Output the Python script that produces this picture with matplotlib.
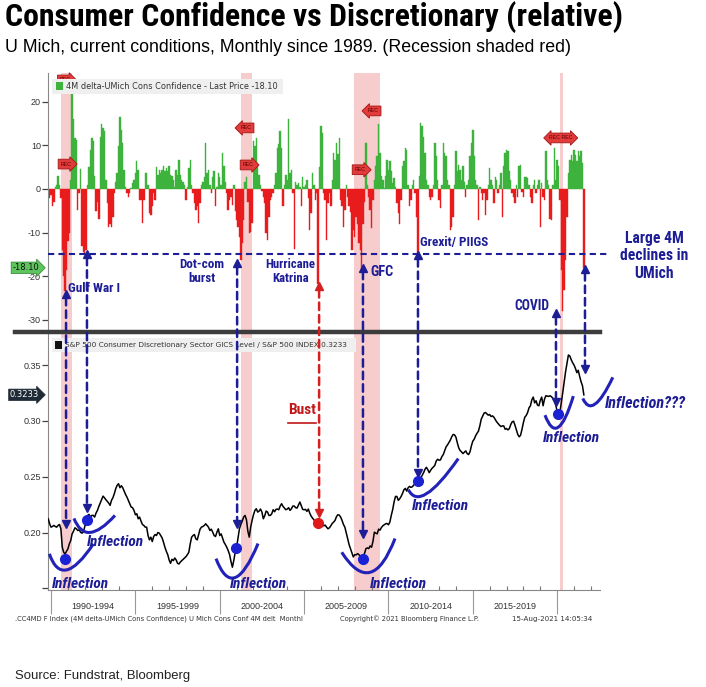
import matplotlib
matplotlib.use('Agg')
import matplotlib.pyplot as plt
import matplotlib.transforms as mtransforms
import numpy as np
import pandas as pd
from matplotlib import font_manager
from matplotlib.patches import ConnectionPatch, PathPatch, Rectangle
from matplotlib.path import Path

plt.rcParams['font.family'] = ['Liberation Sans', 'DejaVu Sans']
installed = {f.name for f in font_manager.fontManager.ttflist}
narrow = next((n for n in ('Liberation Sans Narrow', 'Arial Narrow', 'Roboto Condensed')
               if n in installed), 'Liberation Sans')

# 4M delta UMich current conditions (monthly, Nov 1989 - Aug 2021)
delta_89_94 = [
    -1, -2,
    -1.5, -4, -3, 0.5, 1, 3, 0.8, -2, -14, -20, -23.5, -18.7,
    -12, -10, 2, 21.7, 16, 11.7, 11.3, -4.8, -1, 4.6, -13, -14.5,
    -15, -14, 1, 5, 9, 11.7, 11, 3, -5, -3, -7, 12,
    14.8, 14, 13.2, 2, -3.3, -8.7, -8, -8.7, -6.4, -1, 1.5, 3.6,
    9.8, 16.5, 13.6, 10.5, 4.4, 0.5, -1, -1.8, -1, 0.3, 1.3, 2,
]
delta_95_99 = [
    3.6, 6.3, 4.4, -2.5, -2.5, -7.9, -2.5, 3.6, 3.6, 1, -5.6, -6,
    -4, -1, -2.5, 5, 3.3, 4.4, 3.6, 4.4, 5.2, 4, 4.8, 4,
    5.2, 3.3, 3, 2, 0.5, 4.4, 3.3, 6.7, 3.3, 2, 1.5, 1,
    -2.5, 0.5, 4.8, 6.7, 1, -1, -3.3, -4.8, -4, -7.9, -3.3, 1,
    1.5, 2.8, 10.5, 3.6, 4.4, 1, -1, 2.8, 4, -4, 0.5, 3.6,
]
delta_00_04 = [
    2.8, 1, 8.2, 5.2, 1.5, -1, -4.8, -2.5, -1.8, -3.7, 1, -5,
    -7.2, -8.7, -11, -16.3, -12.5, -7.2, 1.7, 2.8, -3, -10.2, -9.8, -7.9,
    10.9, 9.8, 11.7, 5.2, 3.3, 1, -0.5, -1.8, -3.3, -10.2, -11.8, -6.4,
    -2.5, -1.8, -1, 1, 3.6, 9.4, 10.2, 13.2, 9.4, -4, 1, 3.3,
    2, 16, 3.6, 4.4, -1, -13.7, 1.7, 1, 1.3, 0.5, -4, 2.8,
]
delta_05_09 = [
    0.5, 1, 2, -2, -9.5, -5.6, 3.6, 1, -2.5, -1, -21.8, 5,
    14.4, 12.8, -1, -2.5, -11.8, -3.3, -1, -4, 2, 8.2, 6.7, 10.5,
    8, 11.7, -2.5, -4, -8.7, -4.8, 1, -1.8, -4, -5.2, -14, -9.5,
    -11, -6.4, -8, -12.5, -14, -18.7, -8, -3, 10.5, 1, -1.8, -4.8,
    -9, -2.5, 2, 5.2, 7.5, 14.8, 8.2, 3, 2, 0.2, 3, 6.7,
]
delta_10_14 = [
    4.4, 6.3, 4, 1.3, 2.5, 0.5, -3.3, -5.6, -8, -2.5, 5.2, 6.3,
    9.4, 9, 1, -4, -2.5, 1, 2, -1, -6.4, -14.8, 3, 15.2,
    14.4, 12, 8.2, 2, 1, -1.8, -2.5, -1.8, 1, 10.5, 7.5, 2,
    -2.5, -4.4, 1, 10.5, 8.2, 7.5, 2, 1, -9.5, -8.7, -6.4, 1,
    8.6, 4, 5.5, 4.4, 2, 5.2, 1.7, -1.8, 1, 2, 7.5, 10.5,
]
delta_15_19 = [
    13.6, 7.5, 2, 1, -7.2, 0.5, -1, -2.5, -1, -6, -2.5, 1,
    4.8, 2, 1, -3.3, 2.8, 2, -1, 1, 3.6, -6.4, 5.2, 8.2,
    9, 8.6, 4, 2, -1, -1.8, -3.3, 1, -1.8, 5.2, 5.5, -0.6,
    -1.8, 2.8, 2.8, 2.4, 1, -1.8, -3.3, 1, 2, -1, 1, 2,
    -8.7, 1.3, -1.8, -2.5, 8.6, 2, 1, -6.8, -7.2, 1, 9.4, 2,
]
delta_20_21 = [
    6.7, 5.2, -2.5, -18.7, -27.9, -23.3, -16.4, -6.4, 3.6, 6.7, 7.7, 6.3,
    9, 7.7, 6.3, 8.6, 7.5, 8.6, 6, -18.1,
]

# S&P 500 Consumer Discretionary / S&P 500 (monthly)
ratio_89_94 = [
    0.2123, 0.2078,
    0.2048, 0.2054, 0.2063, 0.2054, 0.2048, 0.2063, 0.2072, 0.2033, 0.1868, 0.1823, 0.1808, 0.1832,
    0.1853, 0.1898, 0.1928, 0.1988, 0.2012, 0.2042, 0.2033, 0.2018, 0.2024, 0.2003, 0.1994, 0.2003,
    0.2054, 0.2108, 0.2153, 0.2162, 0.2138, 0.2153, 0.2153, 0.2138, 0.2174, 0.2198, 0.2234, 0.2264,
    0.2294, 0.2326, 0.2311, 0.2294, 0.2279, 0.2264, 0.2243, 0.2288, 0.2311, 0.2347, 0.2392, 0.2422,
    0.2437, 0.2401, 0.2419, 0.2401, 0.2371, 0.2341, 0.2317, 0.2288, 0.2258, 0.2228, 0.2222, 0.2198,
]
ratio_95_99 = [
    0.2159, 0.2168, 0.2123, 0.2138, 0.2102, 0.2072, 0.2063, 0.2048, 0.2048, 0.1973, 0.1934, 0.1958,
    0.1919, 0.1964, 0.1982, 0.1973, 0.2000, 0.1994, 0.1973, 0.1952, 0.1913, 0.1868, 0.1832, 0.1802,
    0.1754, 0.1724, 0.1760, 0.1748, 0.1772, 0.1754, 0.1724, 0.1718, 0.1736, 0.1748, 0.1760, 0.1772,
    0.1784, 0.1802, 0.1823, 0.1898, 0.1958, 0.1973, 0.1982, 0.1943, 0.1934, 0.1982, 0.2030, 0.2048,
    0.2054, 0.2063, 0.2078, 0.2063, 0.2048, 0.2018, 0.2030, 0.2003, 0.1973, 0.1964, 0.2003, 0.2033,
]
ratio_00_04 = [
    0.1973, 0.1988, 0.1952, 0.1913, 0.1892, 0.1868, 0.1838, 0.1802, 0.1740, 0.1689, 0.1750, 0.1823,
    0.1868, 0.1952, 0.2033, 0.2072, 0.2102, 0.2138, 0.2153, 0.2114, 0.2012, 0.1958, 0.2048, 0.2108,
    0.2159, 0.2198, 0.2213, 0.2183, 0.2192, 0.2210, 0.2183, 0.2123, 0.2150, 0.2192, 0.2183, 0.2153,
    0.2153, 0.2168, 0.2204, 0.2186, 0.2207, 0.2210, 0.2204, 0.2237, 0.2258, 0.2234, 0.2219, 0.2204,
    0.2210, 0.2222, 0.2198, 0.2213, 0.2237, 0.2237, 0.2222, 0.2219, 0.2246, 0.2273, 0.2240, 0.2207,
]
ratio_05_09 = [
    0.2204, 0.2207, 0.2189, 0.2210, 0.2174, 0.2147, 0.2129, 0.2114, 0.2090, 0.2078, 0.2069, 0.2063,
    0.2072, 0.2066, 0.2060, 0.2066, 0.2048, 0.2033, 0.2042, 0.2060, 0.2081, 0.2093, 0.2108, 0.2141,
    0.2159, 0.2156, 0.2138, 0.2108, 0.2072, 0.2048, 0.1997, 0.1943, 0.1892, 0.1856, 0.1817, 0.1781,
    0.1802, 0.1799, 0.1811, 0.1802, 0.1784, 0.1796, 0.1778, 0.1814, 0.1856, 0.1862, 0.1856, 0.1880,
    0.1868, 0.1922, 0.2003, 0.1994, 0.1988, 0.2030, 0.2021, 0.2045, 0.2060, 0.2069, 0.2078, 0.2081,
]
ratio_10_14 = [
    0.2069, 0.2093, 0.2153, 0.2204, 0.2273, 0.2323, 0.2323, 0.2288, 0.2302, 0.2323, 0.2350, 0.2383,
    0.2395, 0.2371, 0.2401, 0.2413, 0.2404, 0.2410, 0.2425, 0.2440, 0.2464, 0.2467, 0.2479, 0.2488,
    0.2512, 0.2536, 0.2566, 0.2584, 0.2563, 0.2536, 0.2557, 0.2575, 0.2587, 0.2602, 0.2641, 0.2656,
    0.2647, 0.2650, 0.2680, 0.2698, 0.2734, 0.2767, 0.2785, 0.2806, 0.2827, 0.2857, 0.2878, 0.2875,
    0.2854, 0.2803, 0.2758, 0.2734, 0.2722, 0.2707, 0.2719, 0.2731, 0.2707, 0.2698, 0.2722, 0.2776,
]
ratio_15_19 = [
    0.2818, 0.2836, 0.2866, 0.2889, 0.2907, 0.2955, 0.3015, 0.3042, 0.3069, 0.3075, 0.3063, 0.3051,
    0.3057, 0.3039, 0.3045, 0.3033, 0.3012, 0.2991, 0.2976, 0.2961, 0.2949, 0.2955, 0.2955, 0.2925,
    0.2931, 0.2919, 0.2931, 0.2967, 0.2991, 0.2997, 0.2961, 0.2919, 0.2878, 0.2857, 0.2872, 0.2925,
    0.2985, 0.3033, 0.3048, 0.3075, 0.3117, 0.3135, 0.3189, 0.3213, 0.3161, 0.3180, 0.3141, 0.3135,
    0.3183, 0.3213, 0.3135, 0.3195, 0.3225, 0.3222, 0.3219, 0.3225, 0.3216, 0.3201, 0.3189, 0.3141,
]
ratio_20_21 = [
    0.3087, 0.3063, 0.3081, 0.3165, 0.3255, 0.3345, 0.3441, 0.3515, 0.3590, 0.3581, 0.3548, 0.3521,
    0.3500, 0.3470, 0.3432, 0.3453, 0.3399, 0.3351, 0.3315, 0.3233,
]

recessions = [(1990.58, 1991.25), (2001.25, 2001.92), (2007.95, 2009.5), (2020.15, 2020.33)]
period_labels = ['1990-1994', '1995-1999', '2000-2004', '2005-2009', '2010-2014', '2015-2019']
period_starts = [1990, 1995, 2000, 2005, 2010, 2015, 2020]

delta = np.array(delta_89_94 + delta_95_99 + delta_00_04 + delta_05_09
                 + delta_10_14 + delta_15_19 + delta_20_21)
ratio = np.array(ratio_89_94 + ratio_95_99 + ratio_00_04 + ratio_05_09
                 + ratio_10_14 + ratio_15_19 + ratio_20_21)
months = pd.date_range('1989-11-01', periods=len(delta), freq='MS')
x = months.year + (months.month - 1) / 12.0

navy = '#1d1d96'
blue = '#1a22d4'
green = '#3db23d'
red = '#e81c1c'
W, H = 706, 687

fig = plt.figure(figsize=(W / 100, H / 100), dpi=100)
ax1 = fig.add_axes([48 / W, 1 - 331 / H, 552 / W, 258 / H])
ax2 = fig.add_axes([48 / W, 1 - 590 / H, 552 / W, 257 / H])
xlim = (1989.82, 2022.54)
fit = []  # (text, target width in px)

# top panel: 4M delta bars
bar_cols = np.where(delta >= 0, green, red)
ax1.bar(x, delta, width=1 / 12, color=bar_cols, edgecolor=bar_cols, linewidth=0.3, zorder=2)
ax1.set_xlim(xlim)
ax1.set_ylim(-32.6, 26.6)
ax1.set_xticks([])
ax1.set_yticks([-30, -20, -10, 0, 10, 20])
ax1.set_yticklabels(['-30', '-20', '-10', '0', '10', '20'])

# bottom panel: relative line
ax2.plot(x, ratio, color='black', lw=1.1, zorder=3)
ax2.set_xlim(xlim)
ax2.set_ylim(0.1485, 0.3787)
ax2.set_yticks([0.15, 0.20, 0.25, 0.30, 0.35])
ax2.set_yticklabels(['', '0.20', '0.25', '0.30', '0.35'])
ax2.set_xticks(period_starts)
ax2.set_xticklabels([])
ax2.set_xticks(np.arange(1990, 2023), minor=True)
ax2.tick_params(axis='x', which='major', length=17, width=0.8, color='#999999', direction='out')
ax2.tick_params(axis='x', which='minor', length=3, width=0.8, color='#777777', direction='in')
for i, lab in enumerate(period_labels):
    ax2.text(period_starts[i] + 2.5, -0.066, lab, transform=ax2.get_xaxis_transform(),
             ha='center', va='center', fontsize=6.5, color='#333333')

for ax in (ax1, ax2):
    for a, b in recessions:
        ax.axvspan(a, b, color='#f6c4c4', alpha=0.85, lw=0, zorder=1)
    for s in ['top', 'right']:
        ax.spines[s].set_visible(False)
    ax.spines['left'].set_color('#888888')
    ax.tick_params(axis='y', length=4, width=0.9, color='#444444', labelsize=6.5,
                   labelcolor='#333333', pad=1)
ax1.spines['bottom'].set_visible(False)
ax2.spines['bottom'].set_color('#888888')

# legend boxes
ax1.add_patch(Rectangle((0.0072, 0.9186), 0.4185, 0.058, transform=ax1.transAxes,
                        fc='#efefef', ec='none', zorder=6))
ax1.add_patch(Rectangle((0.0145, 0.934), 0.0127, 0.031, transform=ax1.transAxes,
                        fc=green, ec='none', zorder=7))
t = ax1.text(0.0326, 0.9477, '4M delta-UMich Cons Confidence - Last Price -18.10',
             transform=ax1.transAxes, fontsize=6, color='#333333', va='center',
             family='DejaVu Sans', zorder=7)
fit.append((t, 213))
ax2.add_patch(Rectangle((0.0072, 0.926), 0.551, 0.055, transform=ax2.transAxes,
                        fc='#efefef', ec='none', zorder=6))
ax2.add_patch(Rectangle((0.0127, 0.938), 0.0127, 0.031, transform=ax2.transAxes,
                        fc='#111111', ec='none', zorder=7))
t = ax2.text(0.0308, 0.953, 'S&P 500 Consumer Discretionary Sector GICS Level / S&P 500 INDEX 0.3233',
             transform=ax2.transAxes, fontsize=6, color='#333333', va='center',
             family='DejaVu Sans', zorder=7)
fit.append((t, 287))

# last value tags
ax1.text(-0.016, delta[-1], '-18.10', transform=mtransforms.blended_transform_factory(ax1.transAxes, ax1.transData),
         ha='right', va='center', fontsize=6, family='DejaVu Sans', color='#111111',
         bbox=dict(boxstyle='rarrow,pad=0.15', fc='#5ec45e', ec='#2f7f2f', lw=0.5), zorder=6, clip_on=False)
ax2.text(-0.016, ratio[-1], '0.3233', transform=mtransforms.blended_transform_factory(ax2.transAxes, ax2.transData),
         ha='right', va='center', fontsize=6, family='DejaVu Sans', color='white',
         bbox=dict(boxstyle='rarrow,pad=0.15', fc='#1e2a36', ec='#1e2a36', lw=0.5), zorder=6, clip_on=False)

# recession markers
rec_marks = [(1990.85, 25.0, 'rarrow'), (1990.89, 5.7, 'rarrow'), (2001.56, 14.0, 'larrow'),
             (2001.68, 5.5, 'rarrow'), (2009.09, 17.9, 'larrow'), (2008.32, 4.4, 'rarrow'),
             (2020.23, 11.7, 'darrow')]
for mx, my, style in rec_marks:
    txt = 'REC REC' if style == 'darrow' else 'REC'
    ax1.text(mx, my, txt, fontsize=3.8, color='#5a0000', ha='center', va='center',
             bbox=dict(boxstyle=style + ',pad=0.45', fc='#e23b3b', ec='#a31515', lw=0.6), zorder=5)

# horizontal threshold line
ax1.plot([xlim[0], 2023.15], [-15, -15], ls=(0, (3, 2)), color=navy, lw=1.5, clip_on=False, zorder=6)

# vertical double arrows from large declines to the relative line
arrows = [(1990.89, -25.0, 0.2081, navy), (1992.13, -15.8, 0.2225, navy),
          (2001.03, -17.9, 0.2081, navy), (2005.89, -23.2, 0.2180, '#d42020'),
          (2008.49, -19.0, 0.2000, navy), (2011.75, -16.1, 0.2539, navy),
          (2019.93, -29.4, 0.3177, navy), (2021.65, -19.3, 0.3473, navy)]
for ax_x, ya, yb, col in arrows:
    con = ConnectionPatch(xyA=(ax_x, ya), xyB=(ax_x, yb), coordsA='data', coordsB='data',
                          axesA=ax1, axesB=ax2, color=col, lw=1.8, ls=(0, (3, 2)), zorder=7)
    fig.add_artist(con)
    ax1.plot(ax_x, ya + 0.9, marker='^', ms=6, color=col, zorder=8, clip_on=False)
    ax2.plot(ax_x, yb - 0.0009, marker='v', ms=6, color=col, zorder=8, clip_on=False)

# inflection dots
dots = [(1990.83, 0.1766), (1992.13, 0.2108), (2000.97, 0.1865), (2008.49, 0.1766),
        (2011.75, 0.2458), (2020.05, 0.3060)]
for dx, dy in dots:
    ax2.plot(dx, dy, 'o', ms=7, color=blue, zorder=8)
ax2.plot(2005.83, 0.2081, 'o', ms=7, color='#e01818', zorder=8)


def smile(ax, p0, pm, p2):
    p0, pm, p2 = np.array(p0), np.array(pm), np.array(p2)
    c = 2 * pm - (p0 + p2) / 2
    path = Path([p0, c, p2], [Path.MOVETO, Path.CURVE3, Path.CURVE3])
    ax.add_patch(PathPatch(path, fill=False, ec='#2222b8', lw=2.2, clip_on=False, zorder=7))


smile(ax2, (1989.90, 0.1809), (1990.93, 0.1665), (1992.51, 0.1898))
smile(ax2, (1991.36, 0.2126), (1992.31, 0.2000), (1993.79, 0.2153))
smile(ax2, (1999.78, 0.1766), (2000.91, 0.1596), (2002.27, 0.1901))
smile(ax2, (2007.23, 0.1823), (2008.91, 0.1643), (2010.39, 0.1946))
smile(ax2, (2011.18, 0.2384), (2012.27, 0.2348), (2014.14, 0.2662))
smile(ax2, (2019.28, 0.3051), (2020.07, 0.2943), (2020.96, 0.3222))
smile(ax2, (2021.52, 0.3201), (2022.25, 0.3150), (2023.30, 0.3390))

# event labels (top panel)
ev = dict(color=navy, fontweight='bold', family=narrow, fontsize=10, zorder=9)
fit.append((ax1.text(1991.01, -22.9, 'Gulf War I', ha='left', va='center', **ev), 52))
fit.append((ax1.text(1998.95, -19.0, 'Dot-com\nburst', ha='center', va='center',
                     linespacing=1.1, **ev), 45))
fit.append((ax1.text(2004.17, -19.0, 'Hurricane\nKatrina', ha='center', va='center',
                     linespacing=1.1, **ev), 50))
fit.append((ax1.text(2008.91, -19.0, 'GFC', ha='left', va='center', **ev), 23))
fit.append((ax1.text(2011.87, -12.2, 'Grexit/ PIIGS', ha='left', va='center', **ev), 68))
fit.append((ax1.text(2017.45, -26.8, 'COVID', ha='left', va='center', **ev), 35))
fit.append((fig.text(654 / W, 1 - 256 / H, 'Large 4M\ndeclines in\nUMich', fontsize=11.5,
                     ha='center', va='center', linespacing=1.2, color=navy, fontweight='bold',
                     family=narrow), 68))

# inflection labels (bottom panel)
inf = dict(color=navy, fontweight='bold', fontstyle='italic', family=narrow, fontsize=12,
           ha='left', va='center', zorder=9, clip_on=False)
for tx, ty in [(1990.06, 0.1542), (1992.13, 0.1919), (2000.61, 0.1542), (2008.91, 0.1542),
               (2011.40, 0.2234), (2019.16, 0.2845)]:
    fit.append((ax2.text(tx, ty, 'Inflection', **inf), 57))
fit.append((ax2.text(2022.84, 0.3159, 'Inflection???', **inf), 81))
fit.append((ax2.text(2004.88, 0.3096, 'Bust', fontsize=11, color='#c01818', fontweight='bold',
                     family=narrow, ha='center', va='center', zorder=9), 28))
ax2.plot([2004.05, 2005.72], [0.2985, 0.2985], color='#c01818', lw=1.2, zorder=9)

# dark separator between panels
fig.add_artist(plt.Line2D([15 / W, 600 / W], [1 - 331.5 / H, 1 - 331.5 / H], color='#3c3c3c', lw=3.2))

# titles and footer
fit.append((fig.text(5 / W, 1 - 17 / H, 'Consumer Confidence vs Discretionary (relative)',
                     fontsize=23.5, fontweight='bold', family=narrow, va='center', ha='left'), 617))
fit.append((fig.text(5 / W, 1 - 48 / H,
                     'U Mich, current conditions, Monthly since 1989. (Recession shaded red)',
                     fontsize=12.5, family='Liberation Sans', va='center', ha='left'), 570))
foot = dict(fontsize=5.3, color='#333333', va='center', family='DejaVu Sans')
fit.append((fig.text(15 / W, 1 - 619 / H,
                     '.CC4MD F Index (4M delta-UMich Cons Confidence) U Mich Cons Conf 4M delt  Monthl',
                     **foot), 288))
fit.append((fig.text(340 / W, 1 - 619 / H, 'Copyright\u00a9 2021 Bloomberg Finance L.P.', **foot), 140))
fit.append((fig.text(512 / W, 1 - 619 / H, '15-Aug-2021 14:05:34', **foot), 80))
fit.append((fig.text(15 / W, 1 - 676 / H, 'Source: Fundstrat, Bloomberg', fontsize=10,
                     family='Liberation Sans', va='center', ha='left', color='#222222'), 175))

# scale texts to the widths measured on the reference
fig.canvas.draw()
renderer = fig.canvas.get_renderer()
for t, target in fit:
    w = t.get_window_extent(renderer=renderer).width
    t.set_fontsize(t.get_fontsize() * target / w)

plt.savefig('out.png', dpi=100)
